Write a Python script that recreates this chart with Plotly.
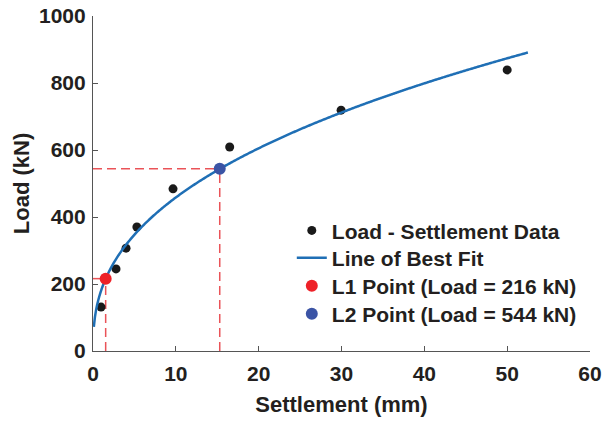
import numpy as np
import plotly.graph_objects as go

# Data
settlement_mm = [0.97, 2.78, 3.99, 5.3, 9.66, 16.5, 29.95, 50.0]
load_kn = [131, 245, 307, 370, 484, 609, 719, 839]

# Power-law best fit coefficients (Load = A * Settlement^B)
FIT_A = 182.0
FIT_B = 0.401
fit_x_start = 0.1
fit_x_end = 52.5

l1_settlement = 1.53
l1_load = 216
l2_settlement = 15.3
l2_load = 544

x_ticks = [0, 10, 20, 30, 40, 50, 60]
y_ticks = [0, 200, 400, 600, 800, 1000]

fit_x = np.linspace(fit_x_start, fit_x_end, 400)
fit_y = FIT_A * fit_x ** FIT_B

FONT = "Liberation Sans, Arial, sans-serif"
TXT = "#231f20"
RED_DASH = "rgba(232,64,70,0.9)"

fig = go.Figure()

# dashed guide lines
for sx, ly in [(l1_settlement, l1_load), (l2_settlement, l2_load)]:
    fig.add_trace(go.Scatter(x=[0, sx], y=[ly, ly], mode="lines",
                             line=dict(color=RED_DASH, width=1.5, dash="9px,5px"),
                             showlegend=False, hoverinfo="skip"))
    fig.add_trace(go.Scatter(x=[sx, sx], y=[0, ly], mode="lines",
                             line=dict(color=RED_DASH, width=1.5, dash="9px,5px"),
                             showlegend=False, hoverinfo="skip"))

fig.add_trace(go.Scatter(x=settlement_mm, y=load_kn, mode="markers",
                         name="Load - Settlement Data", legend="legend",
                         marker=dict(color="#1a1a1a", size=9)))
fig.add_trace(go.Scatter(x=fit_x, y=fit_y, mode="lines", name="Line of Best Fit",
                         legend="legend2",
                         line=dict(color="#1f6fb5", width=2.5, simplify=False)))
fig.add_trace(go.Scatter(x=[l1_settlement], y=[l1_load], mode="markers",
                         name="L1 Point (Load = %d kN)" % l1_load, legend="legend3",
                         marker=dict(color="#ee2128", size=12)))
fig.add_trace(go.Scatter(x=[l2_settlement], y=[l2_load], mode="markers",
                         name="L2 Point (Load = %d kN)" % l2_load, legend="legend4",
                         marker=dict(color="#3b54a5", size=12)))

axis_common = dict(
    showgrid=False, zeroline=False, showline=True, linecolor="#555555", linewidth=1.2,
    ticks="inside", ticklen=5, tickcolor="#555555", tickwidth=1.2, automargin=False,
    tickfont=dict(family=FONT, size=21, color=TXT, weight="bold"),
)


def legend_at(yc):
    return dict(x=0.40, y=yc, xanchor="left", yanchor="middle",
                bgcolor="rgba(0,0,0,0)", borderwidth=0,
                font=dict(family=FONT, size=21, color=TXT, weight="bold"),
                itemwidth=30, tracegroupgap=0)


fig.update_layout(
    width=605, height=424,
    margin=dict(l=93, r=15, t=16, b=73),
    paper_bgcolor="white", plot_bgcolor="white",
    font=dict(family=FONT, color=TXT),
    xaxis=dict(range=[0, 60], tickvals=x_ticks, ticklabelstandoff=4,
               title=dict(text="Settlement (mm)", font=dict(family=FONT, size=22, color=TXT, weight="bold"), standoff=12),
               **axis_common),
    yaxis=dict(range=[0, 1000], tickvals=y_ticks, ticklabelstandoff=2,
               title=dict(text="Load (kN)", font=dict(family=FONT, size=22, color=TXT, weight="bold"), standoff=3),
               **axis_common),
    legend=legend_at(0.359),
    legend2=legend_at(0.277),
    legend3=legend_at(0.194),
    legend4=legend_at(0.110),
    showlegend=True,
)

fig.write_html("out.html")
